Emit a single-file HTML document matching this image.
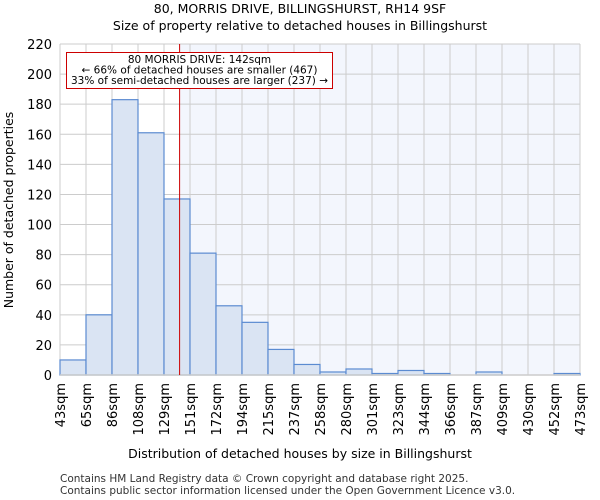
<!DOCTYPE html>
<html><head><meta charset="utf-8"><style>
body{margin:0;background:#fff;font-family:"DejaVu Sans","Liberation Sans",sans-serif;}
svg{display:block}
</style></head><body>
<svg id="chart" width="600" height="500" xmlns="http://www.w3.org/2000/svg">
<text x="300" y="13" text-anchor="middle" font-size="12.5" fill="#000">80, MORRIS DRIVE, BILLINGSHURST, RH14 9SF</text>
<text x="300" y="30" text-anchor="middle" font-size="12.5" fill="#000">Size of property relative to detached houses in Billingshurst</text>
<g id="plot"></g>
<text x="300" y="458" text-anchor="middle" font-size="12.5">Distribution of detached houses by size in Billingshurst</text>
<text transform="translate(13,210) rotate(-90)" text-anchor="middle" font-size="12.5">Number of detached properties</text>
<text x="60" y="482" font-size="10.5" fill="#333">Contains HM Land Registry data © Crown copyright and database right 2025.</text>
<text x="60" y="494" font-size="10.5" fill="#333">Contains public sector information licensed under the Open Government Licence v3.0.</text>
</svg>
<script>
const binLabels=["43sqm","65sqm","86sqm","108sqm","129sqm","151sqm","172sqm","194sqm","215sqm","237sqm","258sqm","280sqm","301sqm","323sqm","344sqm","366sqm","387sqm","409sqm","430sqm","452sqm","473sqm"];
const counts=[10,40,183,161,117,81,46,35,17,7,2,4,1,3,1,0,2,0,0,1];
const yTicks=[0,20,40,60,80,100,120,140,160,180,200,220];
const markerIndex=4.6;
const NS="http://www.w3.org/2000/svg";
const X0=60,X1=580,Y0=375,Y1=44,YMAX=220;
const bw=(X1-X0)/counts.length;
const xs=i=>X0+i*bw;
const ys=v=>Y0-(v/YMAX)*(Y0-Y1);
const g=document.getElementById('plot');
function mk(t,a){const e=document.createElementNS(NS,t);for(const k in a)e.setAttribute(k,a[k]);g.appendChild(e);return e;}
const mx=xs(markerIndex);
let e=mk('rect',{x:mx,y:Y1,width:X1-mx,height:Y0-Y1,fill:'#f3f6fd'});


yTicks.forEach(t=>{
 let l=mk('line',{x1:X0,x2:X1,y1:ys(t),y2:ys(t),stroke:'#cccccc','stroke-width':1});
 
 
 let tx=mk('text',{x:X0-8,y:ys(t)+5,'text-anchor':'end','font-size':13});
 tx.textContent=t;
 
 
});
binLabels.forEach((b,i)=>{
 let l=mk('line',{x1:xs(i),x2:xs(i),y1:Y1,y2:Y0,stroke:'#cccccc','stroke-width':1});
 
 
 let tx=mk('text',{transform:`translate(${xs(i)+5},${Y0+8}) rotate(-90)`,'text-anchor':'end','font-size':13});
 tx.textContent=b;
 
 
});
counts.forEach((c,i)=>{
 if(c<=0)return;
 let r=mk('rect',{x:xs(i),y:ys(c),width:bw,height:Y0-ys(c),fill:'#dae4f3',stroke:'#5b8bd1','stroke-width':1.2});
 
 
});
let ax=mk('line',{x1:X0,x2:X1,y1:Y0,y2:Y0,stroke:'#cccccc','stroke-width':1.5});


let ml=mk('line',{x1:mx,x2:mx,y1:Y1,y2:Y0,stroke:'#cc0000','stroke-width':1});


let box=mk('rect',{x:66.5,y:52.5,width:266,height:36,fill:'#fff',stroke:'#cc0000','stroke-width':1});


["80 MORRIS DRIVE: 142sqm","← 66% of detached houses are smaller (467)","33% of semi-detached houses are larger (237) →"].forEach((s,i)=>{
 let t=mk('text',{x:199.5,y:63+i*10.5,'text-anchor':'middle','font-size':10.5});
 t.textContent=s;
 
 
});
</script>
</body></html>
